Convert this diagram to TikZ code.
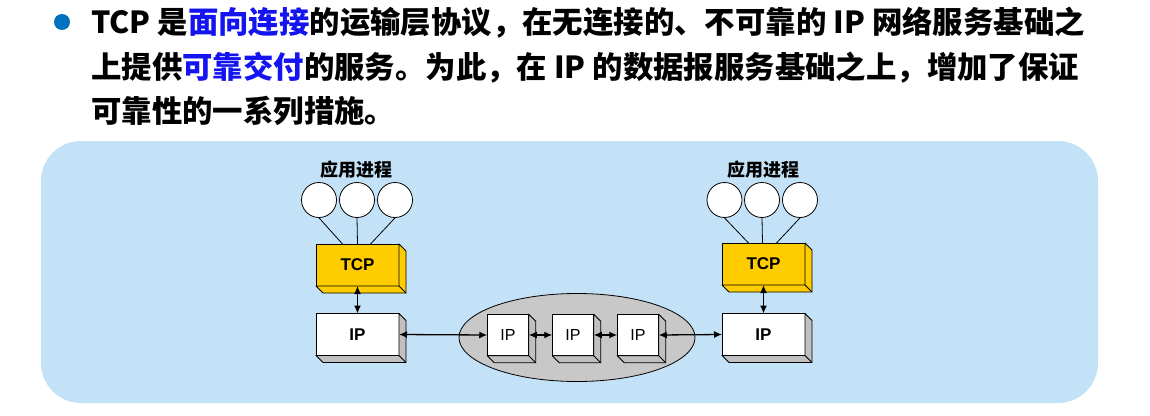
\documentclass[tikz,border=0pt]{standalone}
\usepackage{fontspec}
\setmainfont{Liberation Sans}
\newfontfamily\cjk{Noto Sans CJK SC}
\usetikzlibrary{calc,arrows.meta,shapes.geometric}

\definecolor{panelblue}{RGB}{196,226,247}
\definecolor{tcpgold}{RGB}{255,204,0}
\definecolor{boxside}{RGB}{192,192,192}
\definecolor{cloudgray}{RGB}{200,200,200}
\definecolor{linkblue}{RGB}{20,20,240}
\definecolor{bulletblue}{RGB}{0,112,192}

% side and bottom faces of a raised box: #1 node name, #2 face colour
\newcommand\extrude[2]{%
  \filldraw[fill=#2, draw=black, line width=0.9pt, line join=round]
    (#1.north east) -- ++(7,7) -- ($(#1.south east)+(7,7)$)
    -- ($(#1.south west)+(7,7)$) -- (#1.south west)
    -- (#1.south east) -- cycle;
  \draw[line width=0.9pt] (#1.south east) -- ++(7,7);
}

\tikzset{
  headline/.style={anchor=base west, inner sep=0, font=\cjk\bfseries\fontsize{30.4}{30.4}\selectfont},
  proclabel/.style={inner sep=0, font=\cjk\bfseries\fontsize{18}{18}\selectfont},
  proc/.style={circle, draw, line width=0.8pt, fill=white, minimum size=35pt, inner sep=0},
  slab/.style={draw, line width=0.9pt, minimum width=83pt, minimum height=42pt,
    inner sep=0, outer sep=0, font=\bfseries\fontsize{17}{17}\selectfont},
  tcpbox/.style={slab, fill=tcpgold},
  ipbox/.style={slab, fill=white},
  router/.style={draw, line width=0.9pt, fill=white, minimum width=41.5pt,
    minimum height=41.5pt, inner sep=0, outer sep=0, font=\fontsize{16}{16}\selectfont},
  cloud/.style={ellipse, draw, line width=0.8pt, fill=cloudgray,
    minimum width=236pt, minimum height=88pt, inner sep=0},
  wire/.style={line width=0.8pt},
  link/.style={line width=1.3pt, {Latex[length=8pt,width=7pt]}-{Latex[length=8pt,width=7pt]}}
}

\begin{document}
\begin{tikzpicture}[x=1pt,y=-1pt]
\useasboundingbox (0,0) rectangle (1150,415);

% heading
\fill[bulletblue] (62,22) circle[radius=8];
\node[headline] (l1) at (91,33) {TCP 是\textcolor{linkblue}{面向连接}的运输层协议，在无连接的、不可靠的 IP 网络服务基础之};
\node[headline] (l2) at (91,78) {上提供\textcolor{linkblue}{可靠交付}的服务。为此，在 IP 的数据报服务基础之上，增加了保证};
\node[headline] (l3) at (91,122) {可靠性的一系列措施。};

% background panel
\fill[panelblue, rounded corners=40pt] (41,141) rectangle (1098,403);

% network cloud
\node[cloud] (net) at (577,337.5) {};

% left host
\node[proclabel] (appL) at (356,170) {应用进程};
\node[proc] (pL1) at (319,200) {};
\node[proc] (pL2) at (357,200) {};
\node[proc] (pL3) at (395,200) {};
\node[tcpbox] (tcpL) at (357.5,265) {TCP};
\extrude{tcpL}{tcpgold}
\node[ipbox] (ipL) at (357.5,334.5) {IP};
\extrude{ipL}{boxside}

% right host
\node[proclabel] (appR) at (763,170) {应用进程};
\node[proc] (pR1) at (724.5,200) {};
\node[proc] (pR2) at (762,200) {};
\node[proc] (pR3) at (800,200) {};
\node[tcpbox] (tcpR) at (763.5,264) {TCP};
\extrude{tcpR}{tcpgold}
\node[ipbox] (ipR) at (763.5,334.5) {IP};
\extrude{ipR}{boxside}

% routers
\node[router] (r1) at (508,335) {IP};
\extrude{r1}{boxside}
\node[router] (r2) at (573,335) {IP};
\extrude{r2}{boxside}
\node[router] (r3) at (638,335) {IP};
\extrude{r3}{boxside}

% processes to TCP
\draw[wire] (pL1.south) -- ($(tcpL.north)+(-15,0)$);
\draw[wire] (pL2.south) -- (tcpL.north);
\draw[wire] (pL3.south) -- ($(tcpL.north)+(13,0)$);
\draw[wire] (pR1.south) -- ($(tcpR.north)+(-15,0)$);
\draw[wire] (pR2.south) -- ($(tcpR.north)+(-1,0)$);
\draw[wire] (pR3.south) -- ($(tcpR.north)+(13,0)$);

% links
\draw[link] (tcpL.south) -- (ipL.north);
\draw[link] (tcpR.south) -- (ipR.north);
\draw[link] (ipL.east) -- (r1.west);
\draw[link] (r1.east) -- (r2.west);
\draw[link] (r2.east) -- (r3.west);
\draw[link] (r3.east) -- (ipR.west);
\end{tikzpicture}
\end{document}
